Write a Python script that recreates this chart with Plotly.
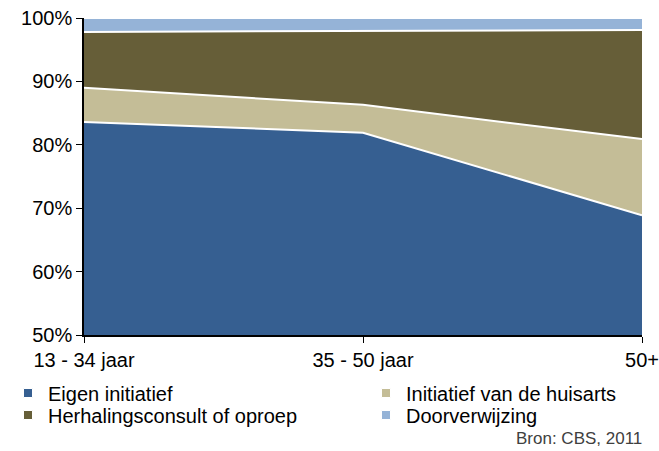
import plotly.graph_objects as go

# Data (share of consultations, %)
groups = ['13 - 34 jaar', '35 - 50 jaar', '50+']
eigen = [83.6, 81.9, 68.9]
huisarts = [5.4, 4.4, 12.0]
herhaling = [8.8, 11.6, 17.2]
doorverwijzing = [2.2, 2.1, 1.9]

series = [
    ('Eigen initiatief', eigen, '#365F91'),
    ('Initiatief van de huisarts', huisarts, '#C4BD97'),
    ('Herhalingsconsult of oproep', herhaling, '#665E38'),
    ('Doorverwijzing', doorverwijzing, '#95B3D7'),
]
# legend slots (2 columns x 2 rows), one small legend per entry
legend_ids = ['legend', 'legend2', 'legend3', 'legend4']
legend_pos = [(8, 393), (366, 393), (8, 415), (366, 415)]

xs = list(range(len(groups)))

fig = go.Figure()
for (name, vals, color), lid in zip(series, legend_ids):
    fig.add_trace(go.Scatter(
        x=xs, y=vals, name=name, stackgroup='one',
        mode='lines', line=dict(color='white', width=2),
        fillcolor=color, showlegend=False,
    ))
    # small square legend markers like the original
    fig.add_trace(go.Scatter(
        x=[None], y=[None], name=name, mode='markers', legend=lid,
        marker=dict(symbol='square', size=9, color=color,
                    line=dict(color='white', width=1)),
    ))

W, H = 659, 451
legends = {}
for lid, (px, py) in zip(legend_ids, legend_pos):
    legends[lid] = dict(
        xref='container', yref='container',
        x=px / W, y=1 - py / H, xanchor='left', yanchor='middle',
        font=dict(size=20), itemwidth=30, bgcolor='rgba(0,0,0,0)',
    )

fig.update_layout(
    width=W, height=H,
    margin=dict(l=84, r=17, t=18, b=116, autoexpand=False),
    paper_bgcolor='white', plot_bgcolor='white',
    font=dict(family='Liberation Sans, Arial, sans-serif', size=20, color='black'),
    showlegend=True,
    xaxis=dict(
        range=[0, 2], tickvals=xs, ticktext=groups, automargin=False,
        tickangle=0,
        showline=True, linecolor='black', linewidth=1.5,
        ticks='outside', ticklen=6, tickcolor='black',
        showgrid=False, zeroline=False,
    ),
    yaxis=dict(
        range=[50, 100], dtick=10, ticksuffix='%', automargin=False,
        showline=True, linecolor='black', linewidth=1.5,
        ticks='outside', ticklen=6, tickcolor='black',
        showgrid=False, zeroline=False,
    ),
    annotations=[dict(
        text='Bron: CBS, 2011', x=(644 - 84) / 558, y=(335 - 438) / 317,
        xref='paper', yref='paper',
        xanchor='right', yanchor='middle', showarrow=False,
        font=dict(size=17, color='#404040'),
    )],
    **legends,
)

# drop the default page margin so the chart sits at the window's corner
fig.write_html('out.html', config={'displayModeBar': False},
               post_script="document.body.style.margin='0';")
